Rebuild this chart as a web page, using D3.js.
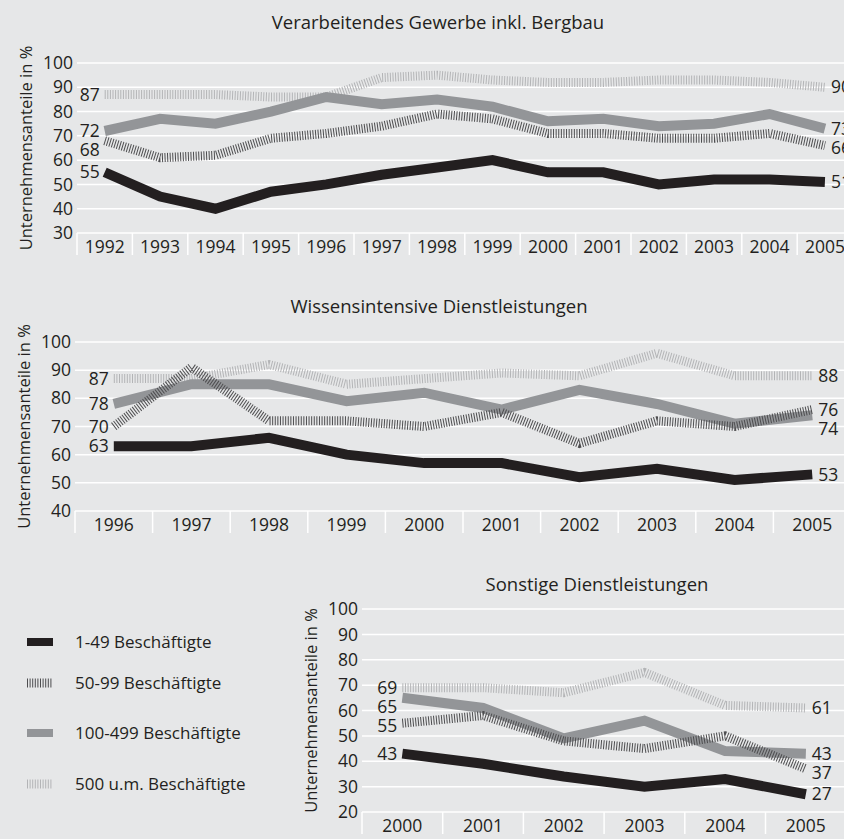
<!DOCTYPE html>
<html>
<head>
<meta charset="utf-8">
<script src="https://cdn.jsdelivr.net/npm/d3@7"></script>
<style>
  body { margin: 0; background: #e6e7e8; }
  svg { display: block; font-family: "Open Sans", "DejaVu Sans", sans-serif; fill: #231f20; }
</style>
</head>
<body>
<div id="chart"></div>
<script>
// data
var seriesNames = ["1-49 Beschäftigte", "50-99 Beschäftigte", "100-499 Beschäftigte", "500 u.m. Beschäftigte"];

var manuYears = ["1992","1993","1994","1995","1996","1997","1998","1999","2000","2001","2002","2003","2004","2005"];
var manuSmall = [55, 45, 40, 47, 50, 54, 57, 60, 55, 55, 50, 52, 52, 51];
var manuMid   = [68, 61, 62, 69, 71, 74, 79, 77, 71, 71, 69, 69, 71, 66];
var manuLarge = [72, 77, 75, 80, 86, 83, 85, 82, 76, 77, 74, 75, 79, 73];
var manuHuge  = [87, 87, 87, 86, 86, 94, 95, 93, 92, 92, 93, 93, 92, 90];

var knowYears = ["1996","1997","1998","1999","2000","2001","2002","2003","2004","2005"];
var knowSmall = [63, 63, 66, 60, 57, 57, 52, 55, 51, 53];
var knowMid   = [70, 91, 72, 72, 70, 75, 64, 72, 70, 76];
var knowLarge = [78, 85, 85, 79, 82, 76, 83, 78, 71, 74];
var knowHuge  = [87, 87, 92, 85, 87, 89, 88, 96, 88, 88];

var otherYears = ["2000","2001","2002","2003","2004","2005"];
var otherSmall = [43, 39, 34, 30, 33, 27];
var otherMid   = [55, 58, 48, 45, 50, 37];
var otherLarge = [65, 61, 49, 56, 44, 43];
var otherHuge  = [69, 69, 67, 75, 62, 61];

var titles = ["Verarbeitendes Gewerbe inkl. Bergbau", "Wissensintensive Dienstleistungen", "Sonstige Dienstleistungen"];
var yTitle = "Unternehmensanteile in %";

var width = 844, height = 839;

// line styles per series (index matches seriesNames)
var styles = [
  {color: "#231f20", width: 10, dash: null},
  {color: "#4d4d4f", width: 9, dash: "1 1.6"},
  {color: "#939598", width: 10, dash: null},
  {color: "#b3b4b6", width: 9, dash: "1 1.6"}
];
var drawOrder = [3, 2, 1, 0];

var svg = d3.select("#chart").append("svg")
    .attr("width", width)
    .attr("height", height);

svg.append("rect").attr("width", width).attr("height", height).attr("fill", "#e6e7e8");

function drawPanel(p){
    var g = svg.append("g");

    var x = d3.scaleBand().domain(p.years).range([p.left, p.right]);
    var y = d3.scaleLinear().domain(p.domain).range([p.bottom, p.top]);
    var ticks = d3.range(p.domain[0], p.domain[1] + 1, 10);

    // grid
    g.selectAll(".grid").data(ticks).enter().append("line")
        .attr("x1", p.left).attr("x2", width)
        .attr("y1", function(d){ return y(d); })
        .attr("y2", function(d){ return y(d); })
        .attr("stroke", "#fff").attr("stroke-width", 1.5);

    g.selectAll(".ytick").data(ticks).enter().append("text")
        .attr("x", p.left - 4)
        .attr("y", function(d){ return y(d); })
        .attr("dy", "0.35em")
        .attr("text-anchor", "end")
        .style("font-size", "17.5px")
        .text(function(d){ return d; });

    // category separators under the baseline
    g.selectAll(".sep").data(p.years).enter().append("line")
        .attr("x1", function(d){ return x(d); })
        .attr("x2", function(d){ return x(d); })
        .attr("y1", p.bottom).attr("y2", p.bottom + 22)
        .attr("stroke", "#fff").attr("stroke-width", 1.5);

    g.selectAll(".xtick").data(p.years).enter().append("text")
        .attr("x", function(d){ return x(d) + x.bandwidth() / 2; })
        .attr("y", p.bottom + 20)
        .attr("text-anchor", "middle")
        .style("font-size", "17.5px")
        .text(function(d){ return d; });

    // axis title
    g.append("text")
        .attr("transform", "translate(" + (p.left - 45) + "," + ((p.top + p.bottom) / 2) + ") rotate(-90)")
        .attr("text-anchor", "middle")
        .style("font-size", "16.5px")
        .text(yTitle);

    // panel title
    g.append("text")
        .attr("x", p.titleX).attr("y", p.titleY)
        .attr("text-anchor", "middle")
        .style("font-size", "18.5px")
        .text(p.title);

    var line = d3.line()
        .x(function(d, i){ return x(p.years[i]) + x.bandwidth() / 2; })
        .y(function(d){ return y(d); });

    drawOrder.forEach(function(k){
        var s = styles[k];
        g.append("path")
            .datum(p.series[k])
            .attr("d", line)
            .attr("fill", "none")
            .attr("stroke", s.color)
            .attr("stroke-width", s.width)
            .attr("stroke-dasharray", s.dash)
            .attr("stroke-linejoin", "miter");
    });

    // end labels, pushed apart so they don't overlap
    function placeLabels(idx, anchor, dx){
        var labs = p.series.map(function(vals){
            return {v: vals[idx], y: y(vals[idx])};
        });
        labs.sort(function(a, b){ return a.y - b.y; });
        for (var i = 1; i < labs.length; i++) {
            if (labs[i].y - labs[i-1].y < 19) labs[i].y = labs[i-1].y + 19;
        }
        var cx = x(p.years[idx]) + x.bandwidth() / 2 + dx;
        g.selectAll(null).data(labs).enter().append("text")
            .attr("x", cx)
            .attr("y", function(d){ return d.y; })
            .attr("dy", "0.35em")
            .attr("text-anchor", anchor)
            .style("font-size", "17.5px")
            .text(function(d){ return d.v; });
    }
    placeLabels(0, "end", -5);
    placeLabels(p.years.length - 1, "start", 6);
}

drawPanel({
    title: titles[0], titleX: 438, titleY: 29,
    years: manuYears, series: [manuSmall, manuMid, manuLarge, manuHuge],
    left: 77, right: 77 + 14 * 55.4, top: 63, bottom: 233, domain: [30, 100]
});
drawPanel({
    title: titles[1], titleX: 439, titleY: 313,
    years: knowYears, series: [knowSmall, knowMid, knowLarge, knowHuge],
    left: 75, right: 75 + 10 * 77.6, top: 342, bottom: 511, domain: [40, 100]
});
drawPanel({
    title: titles[2], titleX: 597, titleY: 591,
    years: otherYears, series: [otherSmall, otherMid, otherLarge, otherHuge],
    left: 362, right: 362 + 6 * 80.7, top: 609, bottom: 812, domain: [20, 100]
});

// legend
var legendY = [642, 683, 733, 784];
var legend = svg.append("g");
seriesNames.forEach(function(name, i){
    var s = styles[i];
    legend.append("line")
        .attr("x1", 27).attr("x2", 53)
        .attr("y1", legendY[i]).attr("y2", legendY[i])
        .attr("stroke", s.color)
        .attr("stroke-width", s.dash ? 9 : 8)
        .attr("stroke-dasharray", s.dash);
    legend.append("text")
        .attr("x", 75).attr("y", legendY[i])
        .attr("dy", "0.35em")
        .style("font-size", "17px")
        .text(name);
});
</script>
</body>
</html>
